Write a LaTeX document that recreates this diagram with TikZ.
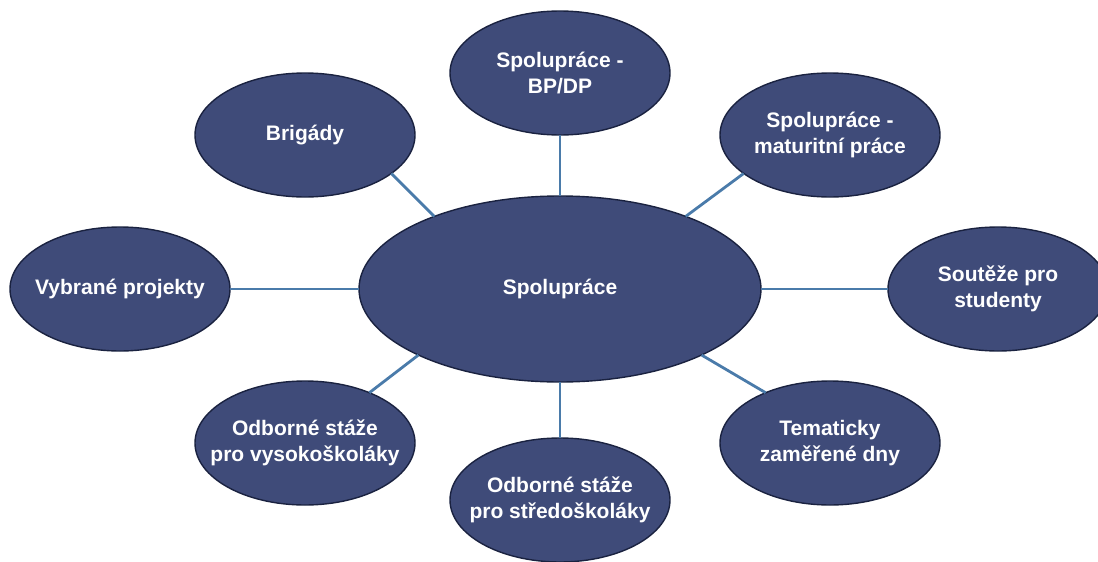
\documentclass[tikz,border=0pt]{standalone}
\usepackage{fontspec}
\setmainfont{Liberation Sans}
\usetikzlibrary{shapes.geometric}
\definecolor{bubblefill}{HTML}{3F4B79}
\definecolor{bubbleedge}{HTML}{1A2240}
\definecolor{linkblue}{HTML}{4A7BAA}
\begin{document}
\begin{tikzpicture}[x=1pt,y=-1pt,
  bubble/.style={ellipse, draw=bubbleedge, line width=1.4pt, fill=bubblefill,
    inner sep=0pt, outer sep=0pt, minimum width=220pt, minimum height=124pt},
  hub/.style={bubble, minimum width=402pt, minimum height=186pt},
  caption/.style={text=white, font=\fontsize{21}{26}\selectfont\bfseries,
    align=center, inner sep=0pt},
  link/.style={draw=linkblue, line width=2.8pt}]
\useasboundingbox (0,0) rectangle (1098,562);
\fill[white] (0,0) rectangle (1098,562);

% central hub
\node[hub] (hub) at (560,289) {};

% surrounding topics
\node[bubble] (bpdp) at (560,73)  {};
\node[bubble] (brig) at (305,135) {};
\node[bubble] (matu) at (830,135) {};
\node[bubble] (proj) at (120,289) {};
\node[bubble] (sout) at (998,289) {};
\node[bubble] (vyso) at (305,443) {};
\node[bubble] (tema) at (830,443) {};
\node[bubble] (stre) at (560,500) {};

% connectors
\draw[link] (bpdp.270) -- (hub.90);
\draw[link] (brig.336) -- (hub.150);
\draw[link] (matu.204) -- (hub.30);
\draw[link] (proj.0)   -- (hub.180);
\draw[link] (sout.180) -- (hub.0);
\draw[link] (vyso.38)  -- (hub.205);
\draw[link] (tema.142) -- (hub.335);
\draw[link] (stre.90)  -- (hub.270);

% captions
\node[caption] at (hub)  {Spolupráce};
\node[caption] at (bpdp) {Spolupráce -\\BP/DP};
\node[caption] at (brig) {Brigády};
\node[caption] at (matu) {Spolupráce -\\maturitní práce};
\node[caption] at (proj) {Vybrané projekty};
\node[caption] at (sout) {Soutěže pro\\studenty};
\node[caption] at (vyso) {Odborné stáže\\pro vysokoškoláky};
\node[caption] at (tema) {Tematicky\\zaměřené dny};
\node[caption] at (stre) {Odborné stáže\\pro středoškoláky};
\end{tikzpicture}
\end{document}
